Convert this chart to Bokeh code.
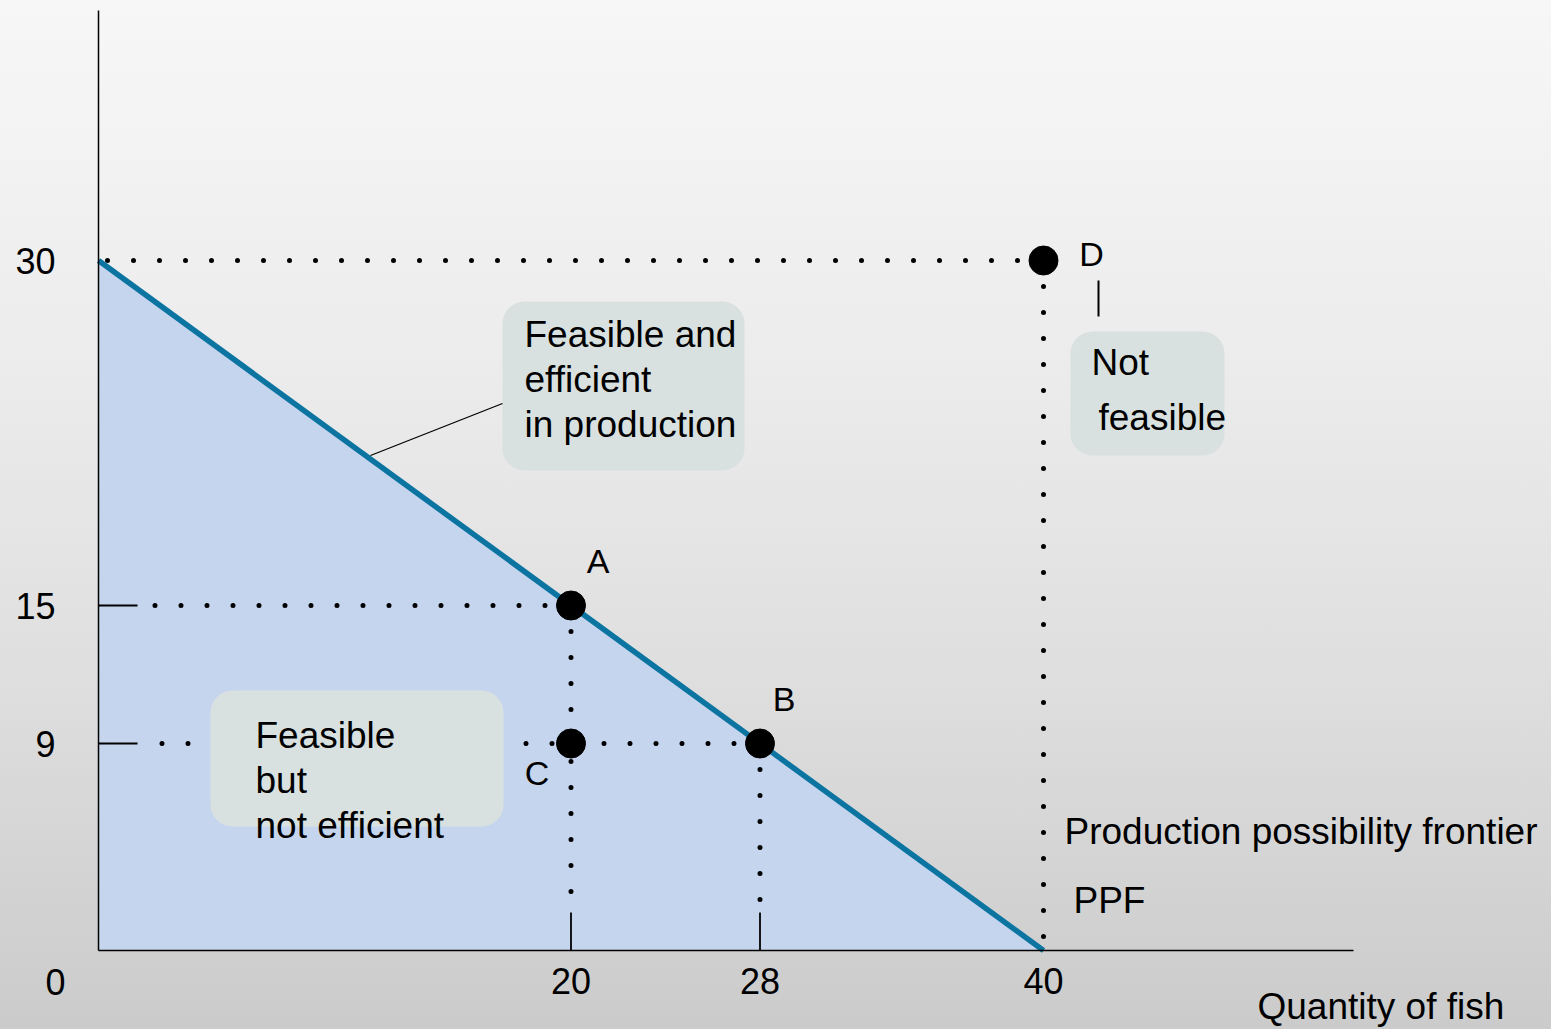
import math
from bokeh.plotting import figure
from bokeh.models import (Range1d, LinearAxis, FixedTicker, BoxAnnotation, Label,
                          ColumnDataSource)
from bokeh.core.properties import value
from bokeh.embed import file_html
from bokeh.resources import INLINE

# ---------------- data ----------------
ppf_fish = [0, 40]          # quantity of fish
ppf_other = [30, 0]         # other good
point_names = ["A", "B", "C", "D"]
point_fish = [20, 28, 20, 40]
point_other = [15, 9, 9, 30]
x_tick_values = [20, 28, 40]
y_tick_values = [9, 15, 30]
x_marked_ticks = [20, 28]
y_marked_ticks = [9, 15]

# ---------------- layout constants (pixels) ----------------
W, H = 1551, 1029
LEFT, BOTTOM_PX = 98, 950          # pixel position of the axes origin
PX_X, PX_Y = 23.625, 23.0          # pixels per unit
TICK_LEN = 39
FONT = "Liberation Sans"
TXT = "37px"

def dx(px):
    return (px - LEFT) / PX_X

def dy(py):
    return (BOTTOM_PX - py) / PX_Y

p = figure(width=W, height=H, output_backend="svg", toolbar_location=None,
           x_range=Range1d(dx(0), dx(W)), y_range=Range1d(dy(H), dy(0)),
           x_axis_type=None, y_axis_type=None,
           min_border=0, min_border_left=0, min_border_bottom=0,
           min_border_top=0, min_border_right=0)
p.outline_line_color = None
p.background_fill_color = None
p.border_fill_color = None
p.styles = {"background": "linear-gradient(to bottom, #f7f7f7 0%, #ececec 35%, #dfdfdf 65%, #cbcbcb 100%)"}

# feasible region
p.patch([ppf_fish[0], ppf_fish[0], ppf_fish[1]], [0, ppf_other[0], ppf_other[1]],
        fill_color="#c6d5ee", line_color=None, level="underlay")

# dotted guide lines (drawn from each point towards the axes)
dot = dict(line_color="black", line_width=5, line_dash="0 26", line_cap="round",
           level="underlay")
tick_dx = TICK_LEN / PX_X
tick_dy = TICK_LEN / PX_Y
pts = dict(zip(point_names, zip(point_fish, point_other)))
# horizontal
p.line([pts["D"][0], 0.3], [pts["D"][1], pts["D"][1]], **dot)
p.line([pts["A"][0], tick_dx + 0.4], [pts["A"][1], pts["A"][1]], **dot)
p.line([pts["B"][0], tick_dx + 0.4], [pts["B"][1], pts["B"][1]], **dot)
# vertical
p.line([pts["A"][0], pts["A"][0]], [pts["A"][1], tick_dy + 0.4], **dot)
p.line([pts["B"][0], pts["B"][0]], [pts["B"][1], tick_dy + 0.4], **dot)
p.line([pts["D"][0], pts["D"][0]], [pts["D"][1], 0.5], **dot)

# rounded label boxes
box_color = "#d8e1e0"
for l, r, t, b in [(502, 744, 301, 470), (210, 503, 690, 826), (1070, 1224, 331, 455)]:
    p.add_layout(BoxAnnotation(left=dx(l), right=dx(r), top=dy(t), bottom=dy(b),
                               fill_color=box_color, fill_alpha=1.0, line_color=None,
                               border_radius=22, level="underlay"))

# PPF line
p.line(ppf_fish, ppf_other, line_color="#0b74a0", line_width=5.5)

# leader lines
p.line([dx(370), dx(502)], [dy(455), dy(403)], line_color="black", line_width=1.3)
p.line([dx(1098), dx(1098)], [dy(280), dy(316)], line_color="black", line_width=2)

# tick marks inside the axes
p.ray(x=0, y=y_marked_ticks, length=TICK_LEN, length_units="screen", angle=0,
      line_color="black", line_width=1.8)
p.ray(x=x_marked_ticks, y=0, length=TICK_LEN - 1, length_units="screen", angle=math.pi / 2,
      line_color="black", line_width=1.8)

# points
src = ColumnDataSource(dict(x=point_fish, y=point_other, name=point_names,
                            xo=[27, 24, -34, 48], yo=[-45, -45, 29, -7]))
p.scatter("x", "y", source=src, size=29, fill_color="black", line_color="black")
p.text("x", "y", text="name", source=src, x_offset="xo", y_offset="yo",
       text_font=value(FONT), text_font_size="34px", text_align="center",
       text_baseline="middle", text_color="black")

# axes (fixed at the origin)
xaxis = LinearAxis(ticker=FixedTicker(ticks=x_tick_values), bounds=(0, dx(1353)),
                   fixed_location=0,
                   major_tick_in=0, major_tick_out=0, minor_tick_in=0, minor_tick_out=0,
                   major_label_standoff=17, axis_line_width=1.5, axis_line_color="black",
                   major_label_text_font=FONT, major_label_text_font_size="36px",
                   major_label_text_color="black")
yaxis = LinearAxis(ticker=FixedTicker(ticks=y_tick_values), bounds=(0, dy(10)),
                   fixed_location=0,
                   major_tick_in=0, major_tick_out=0, minor_tick_in=0, minor_tick_out=0,
                   major_label_standoff=43, axis_line_width=1.5, axis_line_color="black",
                   major_label_text_font=FONT, major_label_text_font_size="36px",
                   major_label_text_color="black")
p.add_layout(xaxis, "below")
p.add_layout(yaxis, "left")

# text annotations
def lab(text, xp, yp, size=TXT, align="left"):
    p.add_layout(Label(x=dx(xp), y=dy(yp), text=text, text_font=FONT, text_font_size=size,
                       text_align=align, text_baseline="middle", text_color="black"))

lab("Feasible  and", 524, 334)
lab("efficient", 524, 379)
lab("in production", 524, 424)
lab("Feasible", 255, 735)
lab("but", 255, 780)
lab("not efficient", 255, 825)
lab("Not", 1091, 362)
lab("feasible", 1098, 417)
lab("Production possibility frontier", 1064, 831)
lab("PPF", 1073, 900)
lab("Quantity of fish", 1257, 1006)
lab("0", 55, 981, size="36px", align="center")

open("out.html", "w").write(file_html(p, INLINE))
